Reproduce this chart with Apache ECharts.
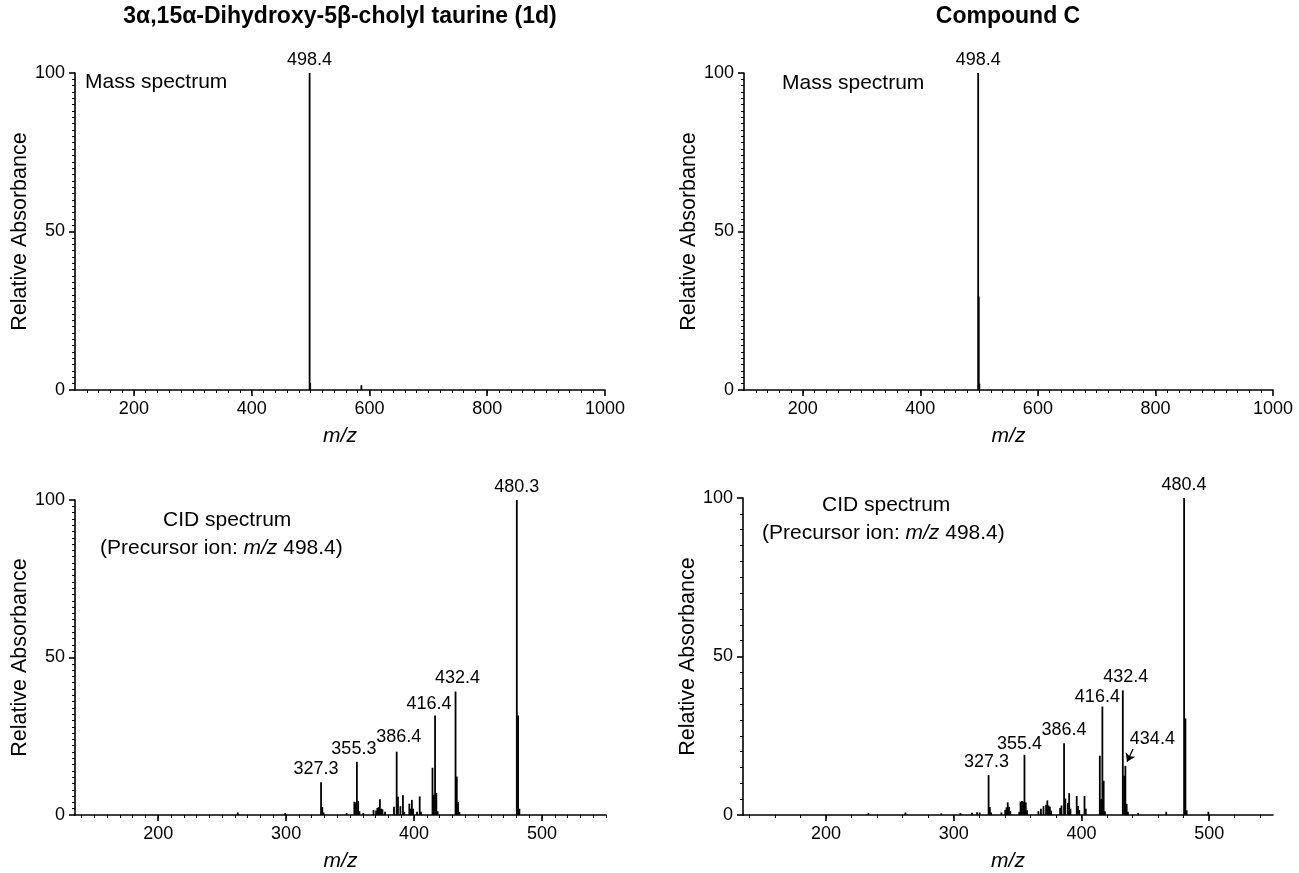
<!DOCTYPE html>
<html>
<head>
<meta charset="utf-8">
<script src="https://cdn.jsdelivr.net/npm/echarts@6/dist/echarts.min.js"></script>
<style>
  html, body { margin: 0; padding: 0; background: #fff; }
  #chart { width: 1299px; height: 873px; }
</style>
</head>
<body>
<div id="chart"></div>
<script>
// mass spectra (m/z, relative intensity)
var ms1Mz  = [498.4, 499.4, 586.3];
var ms1Int = [100, 2.2, 1.5];
var ms2Mz  = [498.4, 499.4, 500.4];
var ms2Int = [100, 29.5, 2.0];

// CID spectrum of 1d
var cid1Mz = [262.2, 299.3, 327.3, 328.3, 329.3, 347.3, 353.3, 354.3, 355.3, 356.3, 357.3, 360.3,
  368.3, 370.3, 371.3, 372.3, 373.3, 374.3, 375.3, 377.3, 384.3, 386.4, 387.4, 389.3, 391.3, 392.3,
  396.3, 397.3, 398.3, 399.3, 402.3, 404.4, 405.4, 414.4, 415.4, 416.4, 417.4, 418.4,
  432.4, 433.4, 434.4, 435.4, 480.3, 481.3, 482.3];
var cid1Int = [0.8, 0.6, 10.4, 2.5, 0.8, 0.6, 4.2, 4.0, 16.9, 4.4, 1.2, 0.6,
  1.6, 1.4, 2.2, 2.5, 5.0, 2.0, 1.8, 1.0, 2.6, 20.1, 5.8, 2.8, 6.3, 1.0,
  3.6, 2.0, 4.8, 2.0, 1.0, 5.9, 1.0, 15.0, 6.4, 31.6, 7.0, 1.2,
  39.2, 12.2, 4.1, 1.0, 100, 31.6, 2.0];

// CID spectrum of compound C
var cid2Mz = [233.2, 262.2, 290.2, 305.2, 314.3, 318.3, 320.3, 327.3, 328.3, 329.3, 337.3,
  340.3, 341.3, 342.3, 343.3, 344.3, 351.3, 352.3, 353.4, 354.4, 355.4, 356.4, 357.4,
  366.3, 368.3, 370.3, 372.3, 373.3, 374.3, 375.3, 376.3, 383.3, 384.4, 386.4, 387.4,
  389.4, 390.4, 391.4, 396.3, 397.3, 398.3, 402.4, 403.4, 414.4, 415.4, 416.4, 417.4, 418.4,
  432.4, 433.4, 434.4, 435.4, 436.4, 444.4, 466.4, 480.4, 481.4, 482.4, 499.4];
var cid2Int = [0.6, 0.8, 0.5, 0.6, 0.7, 0.9, 0.8, 12.6, 2.5, 0.8, 0.8,
  1.6, 2.4, 4.0, 2.6, 1.2, 1.0, 4.2, 4.4, 4.2, 19.0, 4.0, 1.5,
  1.2, 2.0, 2.8, 3.2, 4.6, 3.0, 2.6, 1.4, 2.2, 3.0, 22.6, 5.2,
  3.8, 6.9, 2.0, 6.0, 2.8, 1.6, 6.0, 2.0, 18.7, 5.0, 34.2, 10.8, 1.2,
  39.3, 12.4, 15.5, 3.5, 1.0, 0.6, 1.0, 100, 30.5, 1.5, 1.0];

// labelled peaks
var ms1LabelMz  = [498.4];
var ms2LabelMz  = [498.4];
var cid1LabelMz = [327.3, 355.3, 386.4, 416.4, 432.4, 480.3];
var cid2LabelMz = [327.3, 355.4, 386.4, 416.4, 432.4, 434.4, 480.4];

// axis ticks
var msXTicks  = [200, 400, 600, 800, 1000];
var cidXTicks = [200, 300, 400, 500];
var yTicks    = [0, 50, 100];

var FONT = 'Liberation Sans, Arial, Helvetica, sans-serif';
var chart = echarts.init(document.getElementById('chart'));

function range(a, b, step) {
  var out = [];
  for (var v = a; v <= b + 1e-9; v += step) out.push(v);
  return out;
}

function pairs(mz, it) {
  return mz.map(function (m, i) { return [m, it[i]]; });
}

// label nudges in px, [dx, dy]
var nudge1 = { '327.3': [-5, 0], '355.3': [-3, 0], '386.4': [2, -2], '416.4': [-6, 2], '432.4': [2, 0] };
var nudge2 = { '327.3': [-2, 0], '355.4': [-5, 2], '386.4': [0, 0], '416.4': [-5, 3], '432.4': [3, 0], '434.4': [27, -14] };

function labelPoints(labelMz, mz, it, nudge) {
  return labelMz.map(function (m) {
    var key = m.toFixed(1);
    var d = { value: [m, it[mz.indexOf(m)]] };
    if (nudge && nudge[key]) d.label = { offset: nudge[key] };
    return d;
  });
}

function stick(params, api) {
  var p0 = api.coord([api.value(0), 0]);
  var p1 = api.coord([api.value(0), api.value(1)]);
  return {
    type: 'line',
    shape: { x1: p0[0], y1: p0[1], x2: p1[0], y2: p1[1] },
    style: { stroke: '#000', lineWidth: 1.8 }
  };
}

function xMain(g, min, max, ticks) {
  return {
    type: 'value', gridIndex: g, min: min, max: max, position: 'bottom',
    name: 'm/z', nameLocation: 'middle', nameGap: 36,
    nameTextStyle: { fontFamily: FONT, fontSize: 21, fontStyle: 'italic', color: '#000' },
    axisLine: { onZero: false, lineStyle: { color: '#000', width: 1.6 } },
    axisTick: { customValues: ticks, length: 6, lineStyle: { color: '#000', width: 1.6 } },
    axisLabel: { customValues: ticks, margin: 10, fontFamily: FONT, fontSize: 18, color: '#000',
      formatter: function (v) { return String(v); } },
    splitLine: { show: false }
  };
}

function xMinor(g, min, max, ticks) {
  return {
    type: 'value', gridIndex: g, min: min, max: max, position: 'bottom',
    axisLine: { show: false },
    axisTick: { customValues: ticks, length: 3, lineStyle: { color: '#000', width: 1 } },
    axisLabel: { show: false },
    splitLine: { show: false }
  };
}

function yMain(g, minorSplit) {
  return {
    type: 'value', gridIndex: g, min: 0, max: 100, interval: 50,
    name: 'Relative Absorbance', nameLocation: 'middle', nameGap: 43,
    nameTextStyle: { fontFamily: FONT, fontSize: 21.5, color: '#000' },
    axisLine: { show: true, lineStyle: { color: '#000', width: 1.6 } },
    axisTick: { show: true, length: 6, lineStyle: { color: '#000', width: 1.6 } },
    minorTick: { show: true, splitNumber: minorSplit, length: 3, lineStyle: { color: '#000', width: 1 } },
    axisLabel: { margin: 10, fontFamily: FONT, fontSize: 18, color: '#000', customValues: yTicks },
    splitLine: { show: false },
    minorSplitLine: { show: false }
  };
}

function sticks(axis, data) {
  return { type: 'custom', xAxisIndex: axis, yAxisIndex: axis, renderItem: stick, data: data, silent: true, clip: true };
}

function labels(axis, data, extra) {
  var s = {
    type: 'scatter', xAxisIndex: axis, yAxisIndex: axis, symbolSize: 0, silent: true, data: data,
    itemStyle: { color: '#000' },
    label: {
      show: true, position: 'top', distance: 4, fontFamily: FONT, fontSize: 18, color: '#000',
      textBorderWidth: 0, opacity: 1,
      formatter: function (p) { return p.value[0].toFixed(1); }
    }
  };
  for (var k in extra) s[k] = extra[k];
  return s;
}

function txt(x, y, text, opts) {
  var st = { text: text, fontFamily: FONT, fontSize: 21, fill: '#000',
    textAlign: 'left', textVerticalAlign: 'middle',
    rich: { i: { fontFamily: FONT, fontSize: 21, fontStyle: 'italic', fill: '#000' } } };
  for (var k in opts) st[k] = opts[k];
  return { type: 'text', x: x, y: y, silent: true, style: st };
}

var option = {
  animation: false,
  backgroundColor: '#fff',
  grid: [
    { left: 75,  top: 73,  width: 530, height: 317 },
    { left: 744, top: 73,  width: 529, height: 317 },
    { left: 75,  top: 500, width: 531, height: 317 },
    { left: 743, top: 498, width: 530, height: 318 }
  ],
  xAxis: [
    xMain(0, 100, 1000, msXTicks),
    xMain(1, 100, 1000, msXTicks),
    xMain(2, 135, 550, cidXTicks),
    xMain(3, 135, 550, cidXTicks),
    xMinor(0, 100, 1000, range(120, 980, 20)),
    xMinor(1, 100, 1000, range(120, 980, 20)),
    xMinor(2, 135, 550, range(140, 550, 10)),
    xMinor(3, 135, 550, range(140, 540, 20))
  ],
  yAxis: [yMain(0, 25), yMain(1, 25), yMain(2, 25), yMain(3, 10)],
  series: [
    sticks(0, pairs(ms1Mz, ms1Int)),
    sticks(1, pairs(ms2Mz, ms2Int)),
    sticks(2, pairs(cid1Mz, cid1Int)),
    sticks(3, pairs(cid2Mz, cid2Int)),
    labels(0, labelPoints(ms1LabelMz, ms1Mz, ms1Int)),
    labels(1, labelPoints(ms2LabelMz, ms2Mz, ms2Int)),
    labels(2, labelPoints(cid1LabelMz, cid1Mz, cid1Int, nudge1)),
    labels(3, labelPoints(cid2LabelMz, cid2Mz, cid2Int, nudge2), {
      markLine: {
        silent: true, symbol: ['none', 'arrow'], symbolSize: 8, animation: false,
        label: { show: false },
        lineStyle: { color: '#000', type: 'solid', width: 1.3 },
        data: [[{ coord: [440.4, 20.8] }, { coord: [435.7, 16.8] }]]
      }
    })
  ],
  graphic: [
    txt(340, 17, '3\u03b1,15\u03b1-Dihydroxy-5\u03b2-cholyl taurine (1d)', { textAlign: 'center', fontWeight: 'bold', fontSize: 23 }),
    txt(1008, 17, 'Compound C', { textAlign: 'center', fontWeight: 'bold', fontSize: 23 }),
    txt(85, 82, 'Mass spectrum'),
    txt(782, 83, 'Mass spectrum'),
    txt(163, 520, 'CID spectrum'),
    txt(100, 548, '(Precursor ion: {i|m/z} 498.4)'),
    txt(822, 505, 'CID spectrum'),
    txt(762, 533, '(Precursor ion: {i|m/z} 498.4)')
  ]
};

chart.setOption(option);
</script>
</body>
</html>
